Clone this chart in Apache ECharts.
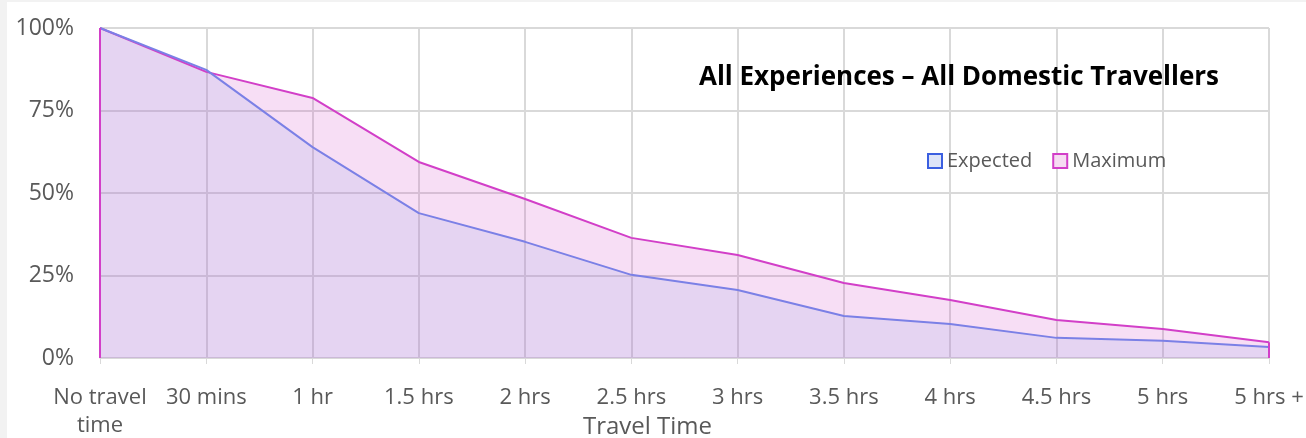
<!DOCTYPE html>
<html>
<head>
<meta charset="utf-8">
<script src="https://cdn.jsdelivr.net/npm/echarts@6/dist/echarts.min.js"></script>
<style>
  html, body { margin: 0; padding: 0; background: #f2f2f2; }
  #chart { position: absolute; left: 7px; top: 2px; width: 1299px; height: 436px; background: #ffffff; }
</style>
</head>
<body>
<div id="chart"></div>
<script>
// categories (x axis)
const travelTimes = ['No travel\ntime', '30 mins', '1 hr', '1.5 hrs', '2 hrs', '2.5 hrs',
    '3 hrs', '3.5 hrs', '4 hrs', '4.5 hrs', '5 hrs', '5 hrs +'];

// share of travellers (%)
const expectedValues = [100, 87.3, 63.9, 43.9, 35.2, 25.2, 20.6, 12.7, 10.3, 6.1, 5.2, 3.3];
const maximumValues = [100, 86.7, 78.8, 59.4, 48.2, 36.4, 31.2, 22.7, 17.6, 11.5, 8.8, 4.8];

const chartTitle = 'All Experiences \u2013 All Domestic Travellers';

var chartDom = document.getElementById('chart');
var myChart = echarts.init(chartDom);

const font = 'Open Sans';

// bordure verticale des aires (comme Excel)
function edges(values, color) {
    return {
        silent: true,
        symbol: 'none',
        label: { show: false },
        lineStyle: { color: color, width: 2, type: 'solid' },
        data: [
            [{ coord: [travelTimes[0], 0] }, { coord: [travelTimes[0], values[0]] }],
            [{ coord: [travelTimes[travelTimes.length - 1], 0] },
             { coord: [travelTimes[travelTimes.length - 1], values[values.length - 1]] }]
        ]
    };
}

var option = {
    animation: false,
    title: {
        text: chartTitle,
        left: 954 - 7,
        top: 58,
        textAlign: 'center',
        textStyle: { fontFamily: font, fontWeight: 'bold', fontSize: 26, color: '#000000' }
    },
    legend: {
        left: 922 - 7,
        top: 144,
        itemWidth: 14,
        itemHeight: 14,
        itemGap: 20,
        icon: 'rect',
        textStyle: { fontFamily: font, fontSize: 20, color: '#595959' },
        data: [
            { name: 'Expected', itemStyle: { color: '#dde4f8', borderColor: '#3b5fe0', borderWidth: 2 } },
            { name: 'Maximum', itemStyle: { color: '#f6dcf2', borderColor: '#d23fc8', borderWidth: 2 } }
        ]
    },
    grid: { left: 93, right: 37, top: 26, bottom: 80, containLabel: false, outerBoundsMode: 'none' },
    xAxis: {
        type: 'category',
        data: travelTimes,
        boundaryGap: false,
        name: 'Travel Time',
        nameLocation: 'middle',
        nameGap: 57,
        nameMoveOverlap: false,
        nameTextStyle: { fontFamily: font, fontSize: 24, color: '#595959', padding: [0, 74, 0, 0] },
        axisLine: { lineStyle: { color: '#d9d9d9', width: 1 } },
        axisTick: { show: true, length: 6, lineStyle: { color: '#d9d9d9' } },
        axisLabel: { fontFamily: font, fontSize: 22, color: '#595959', margin: 26, lineHeight: 28, interval: 0 },
        splitLine: { show: true, lineStyle: { color: '#d9d9d9', width: 2 } }
    },
    yAxis: {
        type: 'value',
        min: 0,
        max: 100,
        interval: 25,
        axisLine: { show: false },
        axisTick: { show: false },
        axisLabel: { fontFamily: font, fontSize: 23, color: '#595959', margin: 26, formatter: '{value}%' },
        splitLine: { lineStyle: { color: '#d9d9d9', width: 2 } }
    },
    series: [
        {
            name: 'Maximum',
            type: 'line',
            data: maximumValues,
            symbol: 'none',
            lineStyle: { color: '#d23fc8', width: 2 },
            itemStyle: { color: '#d23fc8' },
            areaStyle: { color: 'rgba(210, 60, 195, 0.24)', origin: 'start' },
            markLine: edges(maximumValues, '#d23fc8')
        },
        {
            name: 'Expected',
            type: 'line',
            data: expectedValues,
            symbol: 'none',
            lineStyle: { color: '#7b80e6', width: 2 },
            itemStyle: { color: '#3b5fe0' },
            areaStyle: { color: 'rgba(150, 165, 225, 0.26)', origin: 'start' }
        }
    ]
};

myChart.setOption(option);
window.addEventListener('resize', () => myChart.resize());
</script>
</body>
</html>
